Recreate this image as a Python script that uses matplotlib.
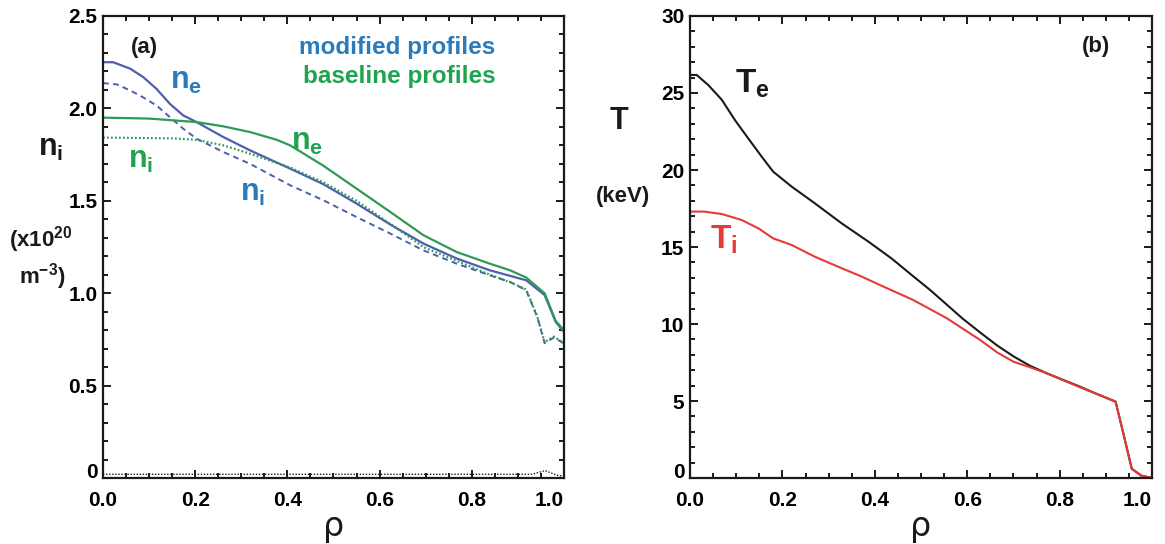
import matplotlib
matplotlib.use("Agg")
import matplotlib.pyplot as plt
from matplotlib.ticker import MultipleLocator

plt.rcParams["font.family"] = ["Liberation Sans", "DejaVu Sans"]
plt.rcParams["font.weight"] = "bold"
plt.rcParams["mathtext.fontset"] = "custom"
plt.rcParams["mathtext.rm"] = "Liberation Sans:bold"
plt.rcParams["mathtext.it"] = "Liberation Sans:bold"
plt.rcParams["mathtext.bf"] = "Liberation Sans:bold"

# ---- (a) densities, 10^20 m^-3 ----
rho_ne_mod = [0.0, 0.022, 0.059, 0.087, 0.116, 0.145, 0.174, 0.203, 0.261, 0.319,
              0.406, 0.478, 0.55, 0.623, 0.695, 0.767, 0.839, 0.883, 0.918, 0.958,
              0.982, 1.0]
ne_mod = [2.25, 2.25, 2.215, 2.17, 2.106, 2.025, 1.962, 1.926, 1.845, 1.773,
          1.674, 1.59, 1.485, 1.372, 1.269, 1.188, 1.124, 1.094, 1.07, 0.99,
          0.845, 0.79]

rho_ni_mod = [0.0, 0.03, 0.059, 0.087, 0.116, 0.145, 0.174, 0.203, 0.261, 0.319,
              0.406, 0.478, 0.55, 0.623, 0.695, 0.767, 0.839, 0.883, 0.918, 0.942,
              0.958, 0.978, 1.0]
ni_mod = [2.137, 2.13, 2.097, 2.06, 2.016, 1.953, 1.89, 1.836, 1.764, 1.70,
          1.584, 1.503, 1.412, 1.323, 1.232, 1.16, 1.097, 1.061, 1.016, 0.872,
          0.73, 0.76, 0.728]

rho_ne_base = [0.0, 0.1, 0.203, 0.261, 0.319, 0.377, 0.406, 0.478, 0.55, 0.623,
               0.695, 0.767, 0.839, 0.883, 0.918, 0.958, 0.982, 1.0]
ne_base = [1.95, 1.945, 1.926, 1.903, 1.872, 1.83, 1.80, 1.69, 1.566, 1.44,
           1.314, 1.223, 1.16, 1.124, 1.085, 1.0, 0.85, 0.80]

rho_ni_base = [0.0, 0.15, 0.203, 0.261, 0.319, 0.406, 0.478, 0.55, 0.623, 0.695,
               0.767, 0.839, 0.883, 0.918, 0.942, 0.958, 0.978, 1.0]
ni_base = [1.842, 1.838, 1.83, 1.80, 1.755, 1.68, 1.60, 1.50, 1.375, 1.25,
           1.175, 1.10, 1.06, 1.02, 0.875, 0.735, 0.765, 0.73]

rho_floor = [0.0, 0.5, 0.93, 0.959, 0.985, 1.0]
n_floor = [0.02, 0.02, 0.02, 0.04, 0.015, 0.01]

# ---- (b) temperatures, keV ----
rho_te = [0.0, 0.0145, 0.04, 0.069, 0.097, 0.126, 0.155, 0.18, 0.22, 0.27,
          0.328, 0.386, 0.436, 0.483, 0.52, 0.556, 0.59, 0.628, 0.665, 0.70,
          0.735, 0.772, 0.844, 0.877, 0.921, 0.937, 0.956, 0.977, 1.0]
te = [26.17, 26.17, 25.5, 24.55, 23.25, 22.05, 20.87, 19.89, 18.92, 17.84,
      16.54, 15.35, 14.26, 13.1, 12.2, 11.25, 10.35, 9.45, 8.6, 7.9,
      7.3, 6.8, 5.93, 5.5, 4.96, 3.0, 0.6, 0.15, 0.0]

rho_ti = [0.0, 0.03, 0.069, 0.112, 0.148, 0.18, 0.22, 0.27, 0.33, 0.37,
          0.411, 0.483, 0.556, 0.628, 0.665, 0.70, 0.735, 0.772, 0.844, 0.877,
          0.921, 0.937, 0.956, 0.977, 1.0]
ti = [17.3, 17.3, 17.14, 16.75, 16.21, 15.56, 15.13, 14.37, 13.6, 13.1,
      12.53, 11.56, 10.37, 8.96, 8.15, 7.55, 7.2, 6.8, 5.89, 5.5,
      4.96, 3.0, 0.6, 0.15, 0.0]

x_ticks = [0.0, 0.2, 0.4, 0.6, 0.8, 1.0]
x_labels = ["0.0", "0.2", "0.4", "0.6", "0.8", "1.0"]
n_ticks = [0.0, 0.5, 1.0, 1.5, 2.0, 2.5]
n_labels = ["0", "0.5", "1.0", "1.5", "2.0", "2.5"]
t_ticks = [0, 5, 10, 15, 20, 25, 30]
t_labels = ["0", "5", "10", "15", "20", "25", "30"]

BLUE_LINE = "#4d5fae"
BLUE_TEXT = "#2a7bbb"
GREEN_LINE = "#2f9a55"
GREEN_TEXT = "#1fa351"
RED = "#e53a37"
INK = "#1a1a1a"
RHO_FONT = ["DejaVu Sans"]

fig = plt.figure(figsize=(11.65, 5.44), dpi=100)
ax_a = fig.add_axes([0.0884, 0.1213, 0.3957, 0.8493])
ax_b = fig.add_axes([0.5923, 0.1213, 0.3966, 0.8493])


def style_axes(ax, yticks, ylabels, yminor):
    ax.set_xlim(0, 1)
    ax.set_xticks(x_ticks)
    ax.set_xticklabels(x_labels)
    ax.xaxis.set_minor_locator(MultipleLocator(0.05))
    ax.set_yticks(yticks)
    ax.set_yticklabels(ylabels)
    ax.yaxis.set_minor_locator(MultipleLocator(yminor))
    ax.tick_params(which="both", direction="in", top=True, right=True,
                   color=INK, width=1.4)
    ax.tick_params(which="major", length=6)
    ax.tick_params(which="minor", length=3.5)
    ax.tick_params(axis="x", pad=9, labelsize=15)
    ax.tick_params(axis="y", pad=4, labelsize=15)
    # last x label sits just inside the frame edge, zero label rests on the axis
    ax.get_xticklabels()[-1].set_ha("right")
    ax.get_yticklabels()[0].set_va("baseline")
    for s in ax.spines.values():
        s.set_linewidth(1.6)
        s.set_color(INK)


# panel (a)
ax_a.plot(rho_ne_mod, ne_mod, color=BLUE_LINE, lw=1.6)
ax_a.plot(rho_ni_mod, ni_mod, color=BLUE_LINE, lw=1.4, ls=(0, (3, 2.2)))
ax_a.plot(rho_ne_base, ne_base, color=GREEN_LINE, lw=1.6)
ax_a.plot(rho_ni_base, ni_base, color=GREEN_LINE, lw=1.6, ls=(0, (0.8, 1.0)))
ax_a.plot(rho_floor, n_floor, color=INK, lw=1.0, ls=(0, (1, 1.2)))
ax_a.set_ylim(0, 2.5)
style_axes(ax_a, n_ticks, n_labels, 0.1)

ax_a.text(0.091, 2.33, "(a)", fontsize=16, color=INK, ha="center", va="center")
ax_a.text(0.852, 2.33, "modified profiles", fontsize=17.5, color=BLUE_TEXT,
          ha="right", va="center")
ax_a.text(0.852, 2.17, "baseline profiles", fontsize=17.5, color=GREEN_TEXT,
          ha="right", va="center")
ax_a.text(0.18, 2.15, r"$\mathrm{n_e}$", fontsize=22, color=BLUE_TEXT,
          ha="center", va="center")
ax_a.text(0.443, 1.82, r"$\mathrm{n_e}$", fontsize=22, color=GREEN_TEXT,
          ha="center", va="center")
ax_a.text(0.082, 1.72, r"$\mathrm{n_i}$", fontsize=22, color=GREEN_TEXT,
          ha="center", va="center")
ax_a.text(0.325, 1.54, r"$\mathrm{n_i}$", fontsize=22, color=BLUE_TEXT,
          ha="center", va="center")

fig.text(0.0438, 0.728, r"$\mathrm{n_i}$", fontsize=22, color=INK,
         ha="center", va="center")
fig.text(0.0352, 0.559, r"(x10$^{\mathrm{20}}$", fontsize=16, color=INK,
         ha="center", va="center")
fig.text(0.036, 0.491, r"m$^{\mathrm{-3}}$)", fontsize=16, color=INK,
         ha="center", va="center")
fig.text(0.286, 0.032, "ρ", fontsize=24, color=INK, ha="center", va="center",
         fontweight="normal", family=RHO_FONT)

# panel (b)
ax_b.plot(rho_te, te, color=INK, lw=1.5)
ax_b.plot(rho_ti, ti, color=RED, lw=1.5)
ax_b.set_ylim(0, 30)
style_axes(ax_b, t_ticks, t_labels, 1)

ax_b.text(0.879, 28.0, "(b)", fontsize=16, color=INK, ha="center", va="center")
ax_b.text(0.134, 25.6, r"$\mathrm{T_e}$", fontsize=24, color=INK,
          ha="center", va="center")
ax_b.text(0.074, 15.45, r"$\mathrm{T_i}$", fontsize=24, color=RED,
          ha="center", va="center")

fig.text(0.531, 0.778, "T", fontsize=22, color=INK, ha="center", va="center")
fig.text(0.535, 0.638, "(keV)", fontsize=16, color=INK, ha="center",
         va="center")
fig.text(0.7906, 0.032, "ρ", fontsize=24, color=INK, ha="center", va="center",
         fontweight="normal", family=RHO_FONT)

fig.savefig("out.png", dpi=100)
